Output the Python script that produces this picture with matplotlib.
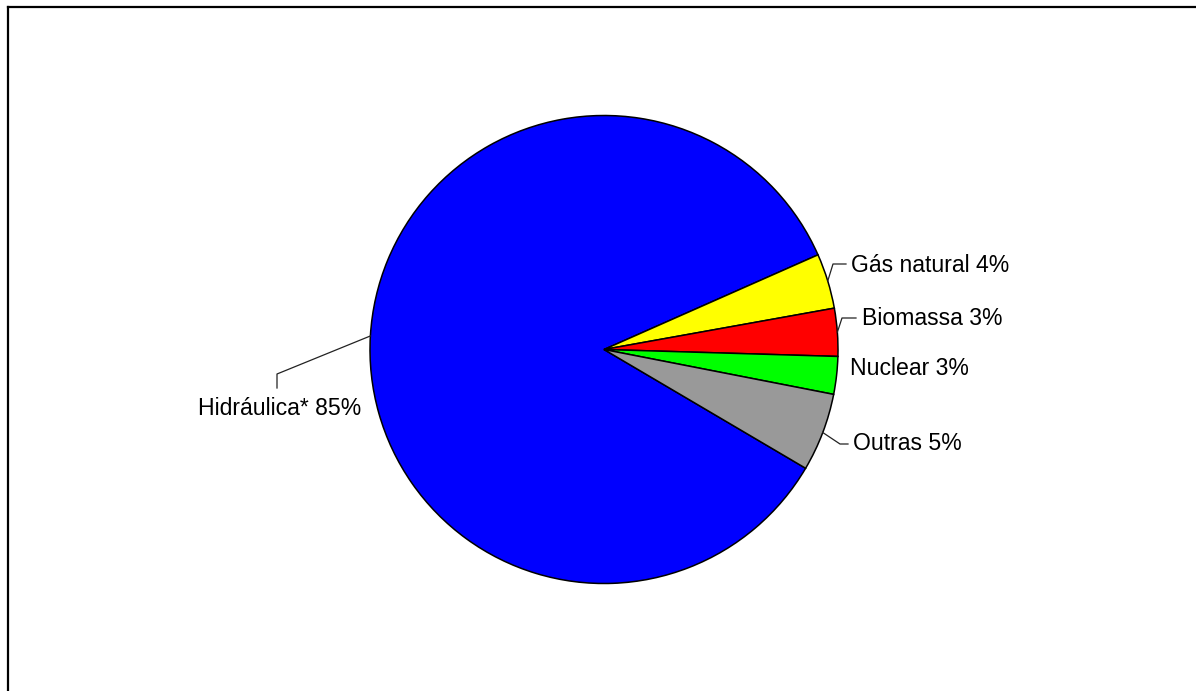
import numpy as np
import matplotlib.pyplot as plt

# participação na matriz (%)
fontes = ['Hidráulica*', 'Gás natural', 'Biomassa', 'Nuclear', 'Outras']
valores = [84.9, 3.8, 3.3, 2.6, 5.4]
rotulos = ['Hidráulica* 85%', 'Gás natural 4%', 'Biomassa 3%', 'Nuclear 3%', 'Outras 5%']
cores = ['#0000FF', '#FFFF00', '#FF0000', '#00FF00', '#999999']

W, H = 1196, 691
fig = plt.figure(figsize=(W / 100, H / 100), dpi=100)
ax = fig.add_axes([0, 0, 1, 1])

cx, cy, r = 604, H - 349.5, 234
wedges, _ = ax.pie(valores, colors=cores, startangle=-30.5, counterclock=False,
                   center=(cx, cy), radius=r,
                   wedgeprops=dict(edgecolor='black', linewidth=1.1))

ax.set_xlim(0, W)
ax.set_ylim(0, H)
ax.set_aspect('equal')
ax.axis('off')

# cotovelo e posição do texto de cada rótulo (pixels da imagem)
layout = {
    'Hidráulica*': dict(elbow=[(277, 374), (277, 388)], txt=(280, 408), ha='center'),
    'Gás natural': dict(elbow=[(833, 264), (846, 264)], txt=(851, 265), ha='left'),
    'Biomassa': dict(elbow=[(842, 318), (856, 318)], txt=(862, 318), ha='left'),
    'Nuclear': dict(elbow=None, txt=(850, 368), ha='left'),
    'Outras': dict(elbow=[(840, 444), (848, 444)], txt=(853, 444), ha='left'),
}

for w, nome, rot in zip(wedges, fontes, rotulos):
    cfg = layout[nome]
    ang = np.deg2rad((w.theta1 + w.theta2) / 2)
    if cfg['elbow'] is not None:
        xs = [cx + r * np.cos(ang)] + [p[0] for p in cfg['elbow']]
        ys = [cy + r * np.sin(ang)] + [H - p[1] for p in cfg['elbow']]
        ax.plot(xs, ys, color='#222222', linewidth=0.9)
    tx, ty = cfg['txt']
    ax.text(tx, H - ty, rot, ha=cfg['ha'], va='center', fontsize=16.6,
            family='Liberation Sans', color='black')

# moldura da área do gráfico
ax.plot([8, 8], [-5, H - 7], color='black', linewidth=1.6, clip_on=False)
ax.plot([8, W + 5], [H - 7, H - 7], color='black', linewidth=1.6, clip_on=False)

fig.savefig('out.png', dpi=100)
